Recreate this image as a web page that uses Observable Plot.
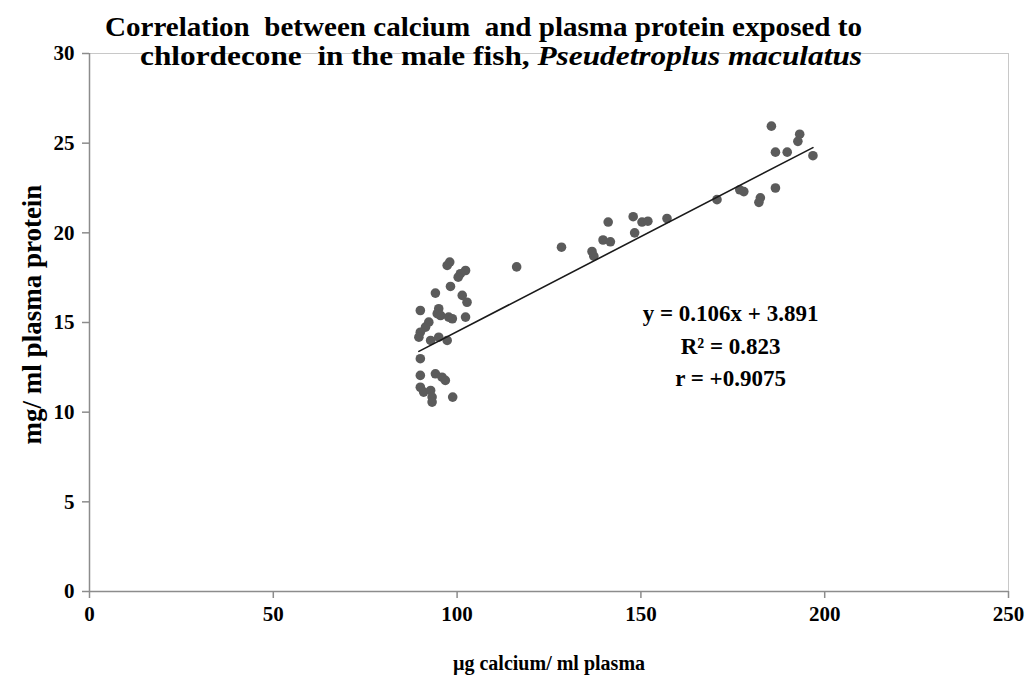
<!DOCTYPE html>
<html>
<head>
<meta charset="utf-8">
<script src="https://cdn.jsdelivr.net/npm/d3@7"></script>
<script src="https://cdn.jsdelivr.net/npm/@observablehq/plot@0.6"></script>
<style>
  html, body { margin: 0; padding: 0; background: #fff; }
  #wrap { position: relative; width: 1027px; height: 678px; }
  .title {
    position: absolute; font-family: "Liberation Serif", "Times New Roman", serif;
    font-weight: bold; font-size: 28px; color: #000; white-space: pre; line-height: 1;
    transform-origin: 0 0;
  }
</style>
</head>
<body>
<div id="wrap"></div>
<script>
// Plasma calcium (µg/ml) and plasma protein (mg/ml) per fish
const calcium = [
  98.0, 97.3, 102.3, 100.9, 100.3, 98.2, 94.1, 101.4, 102.7, 90.0,
  95.0, 94.6, 95.5, 97.7, 98.7, 102.3, 92.3, 91.4, 90.0, 89.6,
  92.8, 95.0, 97.3, 90.0, 90.0, 94.1, 95.9, 96.8, 90.0, 90.9,
  92.8, 93.2, 93.2, 98.8,
  116.2, 128.4, 136.7, 137.2, 139.7, 141.7, 141.1, 147.9, 148.3, 150.3,
  151.9, 157.1, 170.7, 176.9, 178.0, 182.5, 182.1, 186.6, 185.5, 193.2,
  192.7, 186.6, 189.8, 196.8
];
const protein = [
  18.37, 18.18, 17.90, 17.72, 17.53, 17.01, 16.64, 16.51, 16.13, 15.67,
  15.77, 15.49, 15.39, 15.30, 15.21, 15.30, 15.02, 14.74, 14.46, 14.18,
  14.00, 14.18, 14.00, 12.98, 12.05, 12.14, 11.95, 11.77, 11.39, 11.12,
  11.21, 10.84, 10.56, 10.84,
  18.10, 19.20, 18.96, 18.70, 19.60, 19.50, 20.60, 20.90, 20.00, 20.60,
  20.65, 20.80, 21.85, 22.40, 22.30, 21.95, 21.70, 22.50, 25.95, 25.50,
  25.10, 24.50, 24.50, 24.30
];

// Linear fit reported for the series
const slope = 0.106;
const intercept = 3.891;
const fitText = ["y = 0.106x + 3.891", "R² = 0.823", "r = +0.9075"];

const xTicks = [0, 50, 100, 150, 200, 250];
const yTicks = [0, 5, 10, 15, 20, 25, 30];
const titleLines = [
  "Correlation  between calcium  and plasma protein exposed to",
  "chlordecone  in the male fish, "
];
const speciesName = "Pseudetroplus maculatus";

const points = calcium.map((c, i) => ({calcium: c, protein: protein[i]}));
const [xMin, xMax] = d3.extent(calcium);
const fitLine = [xMin, xMax].map(x => ({calcium: x, protein: slope * x + intercept}));

const serif = "'Liberation Serif', 'Times New Roman', serif";
const axisGray = "#8c8c8c";

const chart = Plot.plot({
  width: 1027,
  height: 678,
  marginLeft: 89,
  marginRight: 19,
  marginTop: 53,
  marginBottom: 87,
  style: {fontFamily: serif, fontSize: "21px", fontWeight: "bold", color: "#000", background: "#fff"},
  x: {domain: [0, 250]},
  y: {domain: [0, 30]},
  marks: [
    Plot.frame({stroke: "#c8c8c8", strokeWidth: 1}),
    Plot.axisX({ticks: xTicks, tickSize: 7, tickPadding: 8, stroke: axisGray, strokeWidth: 1.5,
      fill: "#000", fontSize: 21, label: null}),
    Plot.axisY({ticks: yTicks, tickSize: 7, tickPadding: 8, stroke: axisGray, strokeWidth: 1.5,
      fill: "#000", fontSize: 21, label: null}),
    // axis titles
    Plot.text(["µg calcium/ ml plasma"], {frameAnchor: "bottom", dy: 72, text: d => d,
      fontSize: 20, fontWeight: "bold", fill: "#000", lineAnchor: "middle"}),
    Plot.text(["mg/ ml plasma protein"], {frameAnchor: "left", dx: -57, dy: -8, rotate: -90, text: d => d,
      fontSize: 27, fontWeight: "bold", fill: "#000", textAnchor: "middle", lineAnchor: "middle"}),
    Plot.ruleX([0], {stroke: axisGray, strokeWidth: 1.5}),
    Plot.ruleY([0], {stroke: axisGray, strokeWidth: 1.5}),
    Plot.dot(points, {x: "calcium", y: "protein", r: 4.8, fill: "#5b5b5b", stroke: "none"}),
    Plot.line(fitLine, {x: "calcium", y: "protein", stroke: "#1a1a1a", strokeWidth: 1.6}),
    ...fitText.map((t, i) => Plot.text([t], {x: 174.4, y: 13.66, dy: (i - 1) * 32.5, text: d => d,
      fontSize: 23, fontWeight: "bold", textAnchor: "middle", lineAnchor: "middle", fill: "#000"}))
  ]
});

const wrap = document.getElementById("wrap");
wrap.appendChild(chart);

// Two-line title set over the top of the plotting area, each line fitted to its span
function titleLine(parts, left, right, top) {
  const div = document.createElement("div");
  div.className = "title";
  div.style.fontFamily = serif;
  for (const [text, italic] of parts) {
    const span = document.createElement(italic ? "i" : "span");
    span.textContent = text;
    div.appendChild(span);
  }
  div.style.left = left + "px";
  div.style.top = top + "px";
  wrap.appendChild(div);
  const w = div.getBoundingClientRect().width;
  div.style.transform = `scaleX(${(right - left) / w})`;
}
titleLine([[titleLines[0], false]], 105, 862, 13);
titleLine([[titleLines[1], false], [speciesName, true]], 140, 862, 42);
</script>
</body>
</html>
